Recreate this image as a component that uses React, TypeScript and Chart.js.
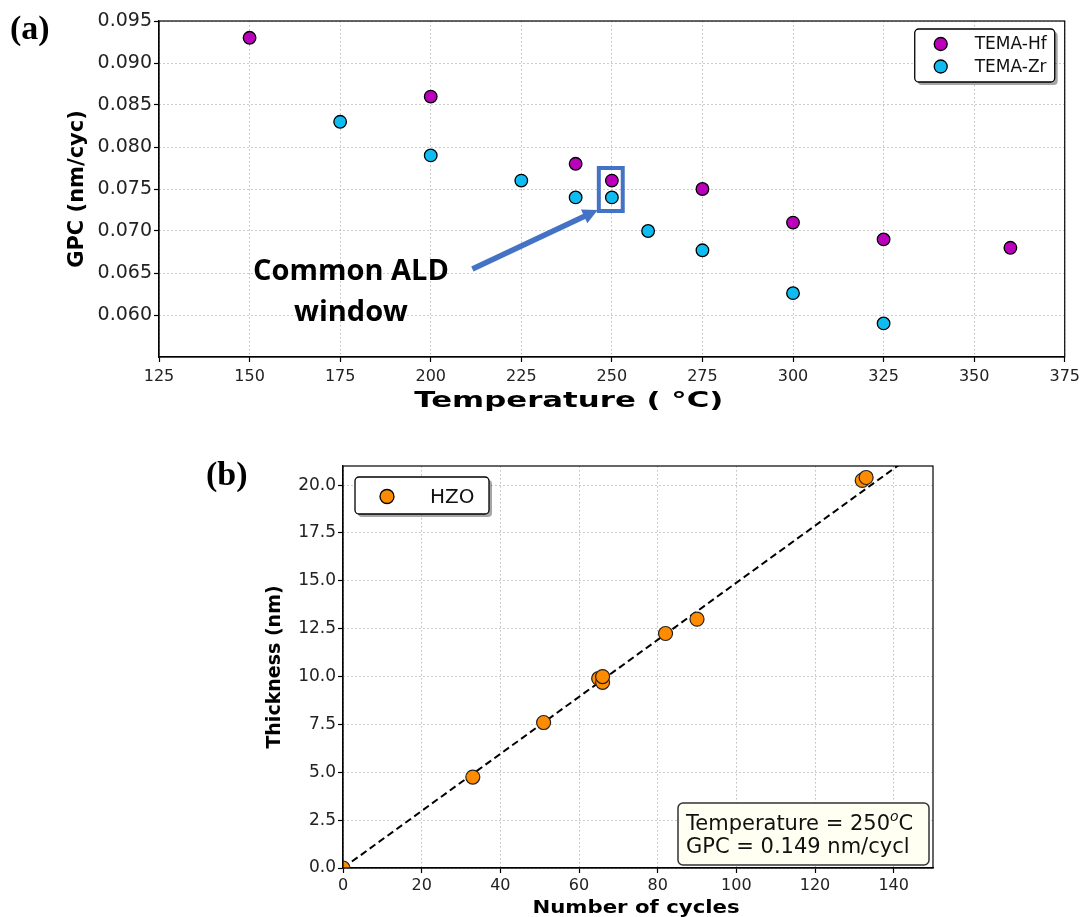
import React, { useEffect, useRef } from 'react';
import { Chart, registerables } from 'chart.js';

Chart.register(...registerables);

// ---------- Panel (a) data ----------
const tempHf = [150, 200, 240, 250, 275, 300, 325, 360];
const gpcHf = [0.093, 0.086, 0.078, 0.076, 0.075, 0.071, 0.069, 0.068];
const tempZr = [175, 200, 225, 240, 250, 260, 275, 300, 325];
const gpcZr = [0.083, 0.079, 0.076, 0.074, 0.074, 0.07, 0.0677, 0.0626, 0.059];
const tempTicks = [125, 150, 175, 200, 225, 250, 275, 300, 325, 350, 375];
const gpcTicks = [0.06, 0.065, 0.07, 0.075, 0.08, 0.085, 0.09, 0.095];

// ---------- Panel (b) data ----------
const cycles = [0, 33, 51, 65, 66, 66, 82, 90, 132, 133];
const thickness = [0, 4.75, 7.6, 9.9, 9.7, 10.0, 12.25, 13.0, 20.25, 20.4];
const fitCycles = [0, 150];
const fitThickness = [0, 22.35];
const cycleTicks = [0, 20, 40, 60, 80, 100, 120, 140];
const thickTicks = [0, 2.5, 5, 7.5, 10, 12.5, 15, 17.5, 20];

// ---------- annotation anchors (data units) ----------
const windowBox = { x0: 246.4, x1: 253.0, y0: 0.07238, y1: 0.0775 };
const arrowFrom = { x: 211.5, y: 0.06548 };
const arrowTo = { x: 246.1, y: 0.0725 };
const windowTextX = 178;
const windowTextLines = ['Common ALD', 'window'];
const windowTextY = [0.06417, 0.05929];

const HF_COLOR = '#bb00bb';
const ZR_COLOR = '#0fbcf2';
const HZO_COLOR = '#ff8c00';
const ANNOT_COLOR = '#4472C4';
const TICK_COLOR = '#222';

const toPts = (xs: number[], ys: number[]) => xs.map((x, i) => ({ x, y: ys[i] }));

function rrect(ctx: CanvasRenderingContext2D, x: number, y: number, w: number, h: number, r: number) {
  ctx.beginPath();
  ctx.moveTo(x + r, y);
  ctx.lineTo(x + w - r, y);
  ctx.arcTo(x + w, y, x + w, y + r, r);
  ctx.lineTo(x + w, y + h - r);
  ctx.arcTo(x + w, y + h, x + w - r, y + h, r);
  ctx.lineTo(x + r, y + h);
  ctx.arcTo(x, y + h, x, y + h - r, r);
  ctx.lineTo(x, y + r);
  ctx.arcTo(x, y, x + r, y, r);
  ctx.closePath();
}

function stretchTitle(scale: any, sx: number, dx: number) {
  if (!scale || scale.__stretched) return;
  const orig = scale.drawTitle.bind(scale);
  scale.drawTitle = () => {
    const ctx = scale.ctx;
    const cx = (scale.left + scale.right) / 2;
    ctx.save();
    ctx.translate(cx + dx, 0);
    ctx.scale(sx, 1);
    ctx.translate(-cx, 0);
    orig();
    ctx.restore();
  };
  scale.__stretched = true;
}

function drawFrame(chart: any) {
  const { ctx, chartArea: ca } = chart;
  ctx.save();
  ctx.strokeStyle = '#000';
  ctx.lineWidth = 1.2;
  ctx.strokeRect(ca.left, ca.top, ca.right - ca.left, ca.bottom - ca.top);
  ctx.restore();
}

function drawLegend(chart: any, o: any) {
  const { ctx, chartArea: ca } = chart;
  const x = o.side === 'right' ? ca.right - o.insetX - o.w : ca.left + o.insetX;
  const y = ca.top + o.insetY;
  ctx.save();
  ctx.fillStyle = 'rgba(0,0,0,0.35)';
  rrect(ctx, x + 3, y + 3, o.w, o.h, 4);
  ctx.fill();
  ctx.fillStyle = '#fff';
  ctx.strokeStyle = '#000';
  ctx.lineWidth = 1.3;
  rrect(ctx, x, y, o.w, o.h, 4);
  ctx.fill();
  ctx.stroke();
  const items = chart.data.datasets.filter((d: any) => !d.hideInLegend);
  items.forEach((d: any, i: number) => {
    const cy = y + o.firstY + i * o.rowH;
    ctx.beginPath();
    ctx.arc(x + o.markerX, cy, o.radius, 0, Math.PI * 2);
    ctx.fillStyle = d.backgroundColor;
    ctx.fill();
    ctx.lineWidth = 1.3;
    ctx.strokeStyle = '#000';
    ctx.stroke();
    ctx.fillStyle = '#111';
    ctx.font = o.font;
    ctx.textAlign = 'left';
    ctx.textBaseline = 'middle';
    ctx.fillText(d.label, x + o.textX, cy + 1);
  });
  ctx.restore();
}

function drawPanelLabel(chart: any, text: string, x: number, y: number) {
  const ctx = chart.ctx;
  ctx.save();
  ctx.font = 'bold 34px "Liberation Serif", "Times New Roman", serif';
  ctx.fillStyle = '#000';
  ctx.textAlign = 'left';
  ctx.textBaseline = 'alphabetic';
  ctx.fillText(text, x, y);
  ctx.restore();
}

const decorA = {
  id: 'decorA',
  beforeDraw(chart: any) {
    stretchTitle(chart.scales.x, 1.4, -43);
  },
  afterDraw(chart: any) {
    const { ctx, scales } = chart;
    const xs = scales.x;
    const ys = scales.y;
    drawFrame(chart);
    ctx.save();
    ctx.strokeStyle = ANNOT_COLOR;
    ctx.lineWidth = 4;
    const bx0 = xs.getPixelForValue(windowBox.x0);
    const bx1 = xs.getPixelForValue(windowBox.x1);
    const by0 = ys.getPixelForValue(windowBox.y1);
    const by1 = ys.getPixelForValue(windowBox.y0);
    ctx.strokeRect(bx0, by0, bx1 - bx0, by1 - by0);
    const x0 = xs.getPixelForValue(arrowFrom.x);
    const y0 = ys.getPixelForValue(arrowFrom.y);
    const x1 = xs.getPixelForValue(arrowTo.x);
    const y1 = ys.getPixelForValue(arrowTo.y);
    const ang = Math.atan2(y1 - y0, x1 - x0);
    const headLen = 15;
    const headW = 15;
    const hx = x1 - headLen * Math.cos(ang);
    const hy = y1 - headLen * Math.sin(ang);
    ctx.lineWidth = 5.5;
    ctx.lineCap = 'butt';
    ctx.beginPath();
    ctx.moveTo(x0, y0);
    ctx.lineTo(hx + Math.cos(ang), hy + Math.sin(ang));
    ctx.stroke();
    ctx.fillStyle = ANNOT_COLOR;
    ctx.beginPath();
    ctx.moveTo(x1, y1);
    ctx.lineTo(hx + (headW / 2) * Math.sin(ang), hy - (headW / 2) * Math.cos(ang));
    ctx.lineTo(hx - (headW / 2) * Math.sin(ang), hy + (headW / 2) * Math.cos(ang));
    ctx.closePath();
    ctx.fill();
    ctx.fillStyle = '#000';
    ctx.font = 'bold 29px "Open Sans", "Noto Sans", sans-serif';
    ctx.textAlign = 'center';
    ctx.textBaseline = 'alphabetic';
    windowTextLines.forEach((t, i) => {
      ctx.fillText(t, xs.getPixelForValue(windowTextX), ys.getPixelForValue(windowTextY[i]));
    });
    ctx.restore();
    drawLegend(chart, {
      side: 'right', insetX: 10, insetY: 8, w: 140, h: 53,
      markerX: 26, textX: 60, firstY: 15, rowH: 22.5, radius: 6.5,
      font: '17px "DejaVu Sans", sans-serif',
    });
    drawPanelLabel(chart, '(a)', 10, 39);
  },
};

const infoLines = [
  [{ t: 'Temperature = 250' }, { t: 'o', sup: true }, { t: 'C' }],
  [{ t: 'GPC = 0.149 nm/cycl' }],
];

const decorB = {
  id: 'decorB',
  beforeDraw(chart: any) {
    stretchTitle(chart.scales.x, 1.18, -2);
  },
  afterDraw(chart: any) {
    const { ctx, chartArea: ca } = chart;
    drawFrame(chart);
    drawLegend(chart, {
      side: 'left', insetX: 12, insetY: 11, w: 134, h: 37,
      markerX: 32, textX: 75, firstY: 19.5, rowH: 0, radius: 7,
      font: '20px "DejaVu Sans", sans-serif',
    });
    const w = 251;
    const h = 62;
    const x = ca.right - 4 - w;
    const y = ca.bottom - 3 - h;
    ctx.save();
    ctx.fillStyle = '#fffff2';
    ctx.strokeStyle = '#333';
    ctx.lineWidth = 1.5;
    rrect(ctx, x, y, w, h, 5);
    ctx.fill();
    ctx.stroke();
    ctx.fillStyle = '#111';
    ctx.textAlign = 'left';
    ctx.textBaseline = 'alphabetic';
    const base = [27, 50];
    infoLines.forEach((segs, i) => {
      let cx = x + 8;
      segs.forEach((s: any) => {
        ctx.font = s.sup ? 'italic 14px "DejaVu Sans", sans-serif' : '21px "DejaVu Sans", sans-serif';
        const yy = y + base[i] - (s.sup ? 9 : 0);
        ctx.fillText(s.t, cx, yy);
        cx += ctx.measureText(s.t).width;
      });
    });
    ctx.restore();
    drawPanelLabel(chart, '(b)', 206, 60);
  },
};

const gridCommon = {
  color: '#bdbdbd',
  lineWidth: 1,
  tickLength: 5,
  tickColor: '#000',
  tickWidth: 1.2,
  tickBorderDash: [],
};
const borderCommon = { color: '#000', width: 1.2, dash: [1.5, 2.5] };

function configA(): any {
  return {
    type: 'scatter',
    data: {
      datasets: [
        {
          label: 'TEMA-Hf', data: toPts(tempHf, gpcHf), backgroundColor: HF_COLOR,
          borderColor: '#000', borderWidth: 1.3, pointRadius: 6.3,
        },
        {
          label: 'TEMA-Zr', data: toPts(tempZr, gpcZr), backgroundColor: ZR_COLOR,
          borderColor: '#000', borderWidth: 1.3, pointRadius: 6.3,
        },
      ],
    },
    options: {
      responsive: false,
      animation: false,
      devicePixelRatio: 1,
      layout: { padding: { left: 65, top: 21, right: 18, bottom: 11 } },
      plugins: { legend: { display: false }, tooltip: { enabled: false } },
      scales: {
        x: {
          type: 'linear', min: 125, max: 375,
          afterBuildTicks: (s: any) => { s.ticks = tempTicks.map((v) => ({ value: v })); },
          afterFit: (s: any) => { s.height = 57; },
          ticks: {
            color: TICK_COLOR, padding: 5, font: { family: 'DejaVu Sans', size: 16 },
            callback: (v: any) => String(Math.round(Number(v))),
          },
          grid: gridCommon,
          border: borderCommon,
          title: {
            display: true, text: 'Temperature ( °C)', color: '#000', padding: 0,
            font: { family: 'DejaVu Sans', size: 22, weight: 'bold' },
          },
        },
        y: {
          type: 'linear', min: 0.055, max: 0.095,
          afterBuildTicks: (s: any) => { s.ticks = gpcTicks.map((v) => ({ value: v })); },
          afterFit: (s: any) => { s.width = 94; },
          ticks: {
            color: TICK_COLOR, padding: 2, font: { family: 'DejaVu Sans', size: 19 },
            callback: (v: any) => Number(v).toFixed(3),
          },
          grid: gridCommon,
          border: borderCommon,
          title: {
            display: true, text: 'GPC (nm/cyc)', color: '#000', padding: 0,
            font: { family: 'DejaVu Sans', size: 21, weight: 'bold' },
          },
        },
      },
    },
    plugins: [decorA],
  };
}

function configB(): any {
  return {
    type: 'scatter',
    data: {
      datasets: [
        {
          label: 'HZO', data: toPts(cycles, thickness), backgroundColor: HZO_COLOR,
          borderColor: '#222', borderWidth: 1.2, pointRadius: 7, clip: 0,
        },
        {
          label: 'fit', hideInLegend: true, data: toPts(fitCycles, fitThickness), showLine: true,
          borderColor: '#000', borderWidth: 2, borderDash: [7, 4], pointRadius: 0, clip: 0,
          backgroundColor: '#000',
        },
      ],
    },
    options: {
      responsive: false,
      animation: false,
      devicePixelRatio: 1,
      layout: { padding: { left: 264, top: 41, right: 152, bottom: 6 } },
      plugins: { legend: { display: false }, tooltip: { enabled: false } },
      scales: {
        x: {
          type: 'linear', min: 0, max: 150,
          afterBuildTicks: (s: any) => { s.ticks = cycleTicks.map((v) => ({ value: v })); },
          afterFit: (s: any) => { s.height = 51; },
          ticks: {
            color: TICK_COLOR, padding: 3, font: { family: 'DejaVu Sans', size: 16 },
            callback: (v: any) => String(Math.round(Number(v))),
          },
          grid: gridCommon,
          border: borderCommon,
          title: {
            display: true, text: 'Number of cycles', color: '#000', padding: 0,
            font: { family: 'DejaVu Sans', size: 18, weight: 'bold' },
          },
        },
        y: {
          type: 'linear', min: 0, max: 21,
          afterBuildTicks: (s: any) => { s.ticks = thickTicks.map((v) => ({ value: v })); },
          afterFit: (s: any) => { s.width = 79; },
          ticks: {
            color: TICK_COLOR, padding: 2, font: { family: 'DejaVu Sans', size: 17 },
            callback: (v: any) => Number(v).toFixed(1),
          },
          grid: gridCommon,
          border: borderCommon,
          title: {
            display: true, text: 'Thickness (nm)', color: '#000', padding: 0,
            font: { family: 'DejaVu Sans', size: 19, weight: 'bold' },
          },
        },
      },
    },
    plugins: [decorB],
  };
}

export default function App() {
  const refA = useRef<HTMLCanvasElement>(null);
  const refB = useRef<HTMLCanvasElement>(null);
  useEffect(() => {
    const a = new Chart(refA.current as HTMLCanvasElement, configA());
    const b = new Chart(refB.current as HTMLCanvasElement, configB());
    return () => {
      a.destroy();
      b.destroy();
    };
  }, []);
  return (
    <div style={{ position: 'fixed', left: 0, top: 0, width: 1085, height: 917, overflow: 'hidden', background: '#fff' }}>
      <canvas ref={refA} width={1085} height={425} style={{ position: 'absolute', left: 0, top: 0, width: 1085, height: 425 }} />
      <canvas ref={refB} width={1085} height={500} style={{ position: 'absolute', left: 0, top: 425, width: 1085, height: 500 }} />
    </div>
  );
}
